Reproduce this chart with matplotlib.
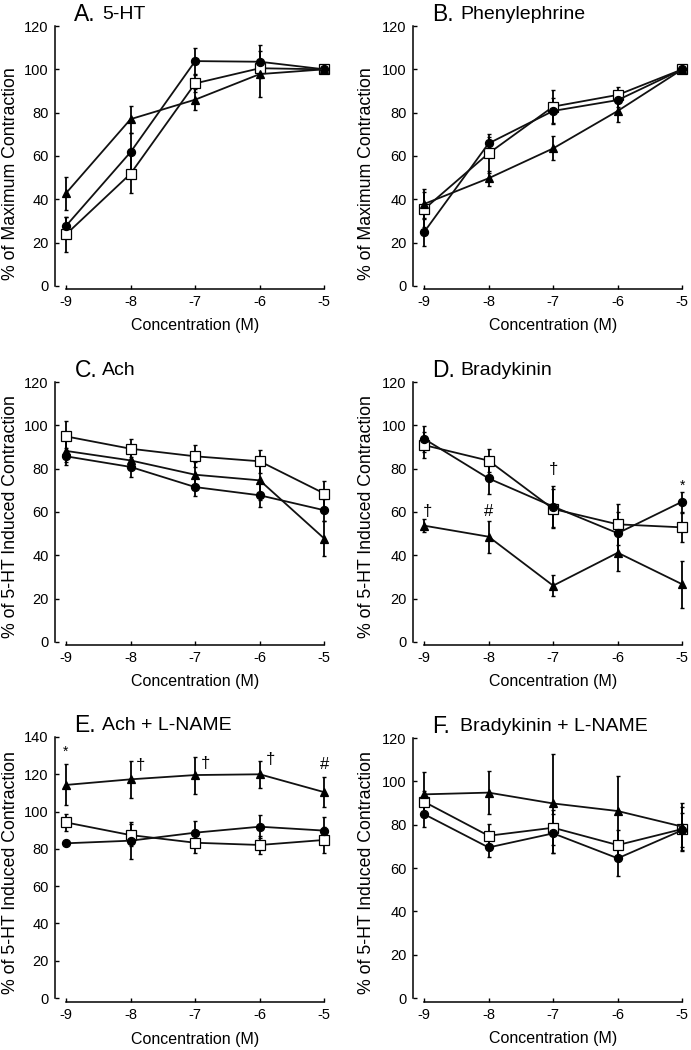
import matplotlib
matplotlib.use("Agg")
import matplotlib.pyplot as plt

plt.rcParams['font.family'] = ['Liberation Sans', 'DejaVu Sans']

conc = [-9, -8, -7, -6, -5]
xticks = [-9, -8, -7, -6, -5]

# A. 5-HT
a_circle = [27.7, 61.8, 103.8, 103.5, 100]
a_circle_err = [4, 9, 6, 7.5, 0.5]
a_tri = [42.8, 77, 86, 97.8, 100]
a_tri_err = [7.6, 6.3, 5, 10.5, 0.5]
a_sq = [23.8, 51.8, 93.5, 100.5, 100]
a_sq_err = [8, 9, 4, 3, 0.5]

# B. Phenylephrine
b_circle = [24.8, 65.8, 80.8, 85.8, 100]
b_circle_err = [6.5, 3, 6, 3, 0.5]
b_tri = [37.8, 49.7, 63.5, 80.8, 100]
b_tri_err = [7, 3.5, 5.5, 5, 0.5]
b_sq = [35.4, 61.2, 82.8, 88.2, 100]
b_sq_err = [8, 9, 7.5, 3.5, 0.5]

# C. Ach
c_circle = [85.7, 80.8, 71.5, 67.7, 60.8]
c_circle_err = [4, 4.5, 4, 5.5, 5]
c_tri = [88.2, 83.8, 77.2, 74.6, 47.7]
c_tri_err = [5, 4, 6, 9, 8]
c_sq = [94.9, 89.2, 85.7, 83.4, 68.5]
c_sq_err = [7, 4.6, 5, 5.4, 6]

# D. Bradykinin
d_circle = [93.8, 75.5, 62.5, 50.2, 64.8]
d_circle_err = [6, 7, 9.5, 10, 4.6]
d_tri = [53.7, 48.6, 26, 41.2, 26.6]
d_tri_err = [3, 7.4, 5, 8.3, 11]
d_sq = [90.9, 83.7, 61.4, 54.3, 52.9]
d_sq_err = [6, 5.3, 9, 9.5, 6.6]
d_marks = ['†', '#', '†', '*']
d_mark_x = [-8.95, -8, -7, -5]
d_mark_y = [60, 60, 79.5, 72]

# E. Ach + L-NAME
e_circle = [83, 84.4, 88.7, 91.9, 89.8]
e_circle_err = [0.8, 10, 6.4, 6.3, 7.2]
e_tri = [114.3, 117.3, 119.6, 120, 110.4]
e_tri_err = [11, 10, 9.9, 7.3, 8]
e_sq = [94.2, 87.4, 83.3, 82.1, 84.8]
e_sq_err = [4.5, 6, 5.3, 4.8, 6.8]
e_marks = ['*', '†', '†', '†', '#']
e_mark_x = [-9, -7.84, -6.84, -5.84, -5]
e_mark_y = [132, 124.5, 126, 128, 125]

# F. Bradykinin + L-NAME
f_circle = [84.9, 69.5, 76, 64.5, 77.5]
f_circle_err = [6, 4.3, 9, 8.2, 8]
f_tri = [94, 94.8, 89.8, 86.3, 79.1]
f_tri_err = [10.5, 10, 23, 16, 11]
f_sq = [90.6, 74.9, 78.6, 70.6, 78]
f_sq_err = [5, 5.3, 8, 7, 10]

W, H = 691, 1050
fig = plt.figure(figsize=(W / 100, H / 100), dpi=100)


def px_axes(left, top, right, bottom):
    return fig.add_axes([left / W, 1 - bottom / H, (right - left) / W, (bottom - top) / H])


def draw_panel(ax, series, ymax, ybottom, letter, name, ylabel, label_xy,
               marks=None, mark_x=None, mark_y=None):
    for vals, err, marker, ms, face in series:
        ax.errorbar(conc, vals, yerr=err, fmt='none', ecolor='black',
                    elinewidth=1.3, capsize=1.6, capthick=1.0, zorder=2, clip_on=False)
        ax.plot(conc, vals, color='#111111', lw=1.3, marker=marker, ms=ms,
                mfc=face, mec='black', mew=0.9, zorder=3, clip_on=False)

    ax.set_xlim(-9.17, -4.99)
    ax.set_ylim(ybottom, ymax)
    ax.set_xticks(xticks)
    ax.set_xticklabels([str(t) for t in xticks])
    ax.set_yticks(range(0, ymax + 1, 20))
    ax.spines['top'].set_visible(False)
    ax.spines['right'].set_visible(False)
    ax.spines['left'].set_bounds(0, ymax)
    ax.spines['bottom'].set_bounds(-9, -5)
    for s in ('left', 'bottom'):
        ax.spines[s].set_linewidth(1.1)
    ax.tick_params(direction='in', length=3.2, width=1.0, labelsize=10.5)
    ax.tick_params(axis='y', pad=4.5)
    ax.tick_params(axis='x', pad=4)

    ax.set_ylabel(ylabel, fontsize=12.8, va='center')
    ax.yaxis.set_label_coords(*label_xy)
    ax.set_xlabel('Concentration (M)', fontsize=11.5, va='center')
    ax.xaxis.set_label_coords(0.52, -0.14)

    ax.annotate(letter, xy=(0, 1), xycoords='axes fraction', xytext=(14, 8),
                textcoords='offset points', fontsize=16.5, va='center', ha='left')
    ax.annotate(name, xy=(0, 1), xycoords='axes fraction', xytext=(34, 8),
                textcoords='offset points', fontsize=14, va='center', ha='left')

    if marks:
        for m, mx, my in zip(marks, mark_x, mark_y):
            fs = 10 if m == '*' else 12
            ax.text(mx, my, m, fontsize=fs, ha='center', va='center')


def series_of(circle, circle_err, tri, tri_err, sq, sq_err):
    return [
        (sq, sq_err, 's', 6.5, 'white'),
        (circle, circle_err, 'o', 5.8, 'black'),
        (tri, tri_err, '^', 6.0, 'black'),
    ]


ax_a = px_axes(55, 26, 325, 289)
draw_panel(ax_a, series_of(a_circle, a_circle_err, a_tri, a_tri_err, a_sq, a_sq_err),
           120, -1.4, 'A.', '5-HT', '% of Maximum Contraction', (-0.163, 0.44))

ax_b = px_axes(413, 26, 683, 289)
draw_panel(ax_b, series_of(b_circle, b_circle_err, b_tri, b_tri_err, b_sq, b_sq_err),
           120, -1.4, 'B.', 'Phenylephrine', '% of Maximum Contraction', (-0.174, 0.44))

ax_c = px_axes(55, 382, 325, 645)
draw_panel(ax_c, series_of(c_circle, c_circle_err, c_tri, c_tri_err, c_sq, c_sq_err),
           120, -1.4, 'C.', 'Ach', '% of 5-HT Induced Contraction', (-0.165, 0.49))

ax_d = px_axes(413, 382, 683, 645)
draw_panel(ax_d, series_of(d_circle, d_circle_err, d_tri, d_tri_err, d_sq, d_sq_err),
           120, -1.4, 'D.', 'Bradykinin', '% of 5-HT Induced Contraction', (-0.174, 0.49),
           d_marks, d_mark_x, d_mark_y)

ax_e = px_axes(55, 737, 325, 1002)
draw_panel(ax_e, series_of(e_circle, e_circle_err, e_tri, e_tri_err, e_sq, e_sq_err),
           140, -2.1, 'E.', 'Ach + L-NAME', '% of 5-HT Induced Contraction', (-0.165, 0.49),
           e_marks, e_mark_x, e_mark_y)

ax_f = px_axes(413, 738, 683, 1002)
draw_panel(ax_f, series_of(f_circle, f_circle_err, f_tri, f_tri_err, f_sq, f_sq_err),
           120, -1.8, 'F.', 'Bradykinin + L-NAME', '% of 5-HT Induced Contraction', (-0.174, 0.49))

fig.savefig('out.png', dpi=100)
